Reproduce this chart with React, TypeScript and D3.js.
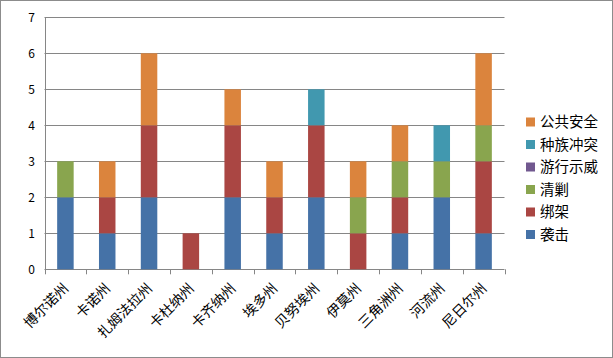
import React from "react";
import * as d3 from "d3";

const categories = ["博尔诺州", "卡诺州", "扎姆法拉州", "卡杜纳州", "卡齐纳州", "埃多州", "贝努埃州", "伊莫州", "三角洲州", "河流州", "尼日尔州"];
const seriesNames = ["袭击", "绑架", "清剿", "游行示威", "种族冲突", "公共安全"];
const attack = [2, 1, 2, 0, 2, 1, 2, 0, 1, 2, 1];
const kidnap = [0, 1, 2, 1, 2, 1, 2, 1, 1, 0, 2];
const sweep = [1, 0, 0, 0, 0, 0, 0, 1, 1, 1, 1];
const protest = [0, 0, 0, 0, 0, 0, 0, 0, 0, 0, 0];
const ethnic = [0, 0, 0, 0, 0, 0, 1, 0, 0, 1, 0];
const publicSafety = [0, 1, 2, 0, 1, 1, 0, 1, 1, 0, 2];
const yTicks = [0, 1, 2, 3, 4, 5, 6, 7];
const colors = ["#4572A7", "#AA4643", "#89A54E", "#71588F", "#4198AF", "#DB843D"];

const W = 613, H = 358;
const left = 44.5, right = 504.5, top = 17.3, bottom = 269.3;
const FONT = "'Noto Sans CJK SC', 'Noto Sans', sans-serif";

export default function App() {
  const values = [attack, kidnap, sweep, protest, ethnic, publicSafety];
  const rows = categories.map((c, i) => {
    const r: any = { cat: c };
    seriesNames.forEach((s, k) => (r[s] = values[k][i]));
    return r;
  });
  const stacked = d3.stack().keys(seriesNames)(rows);
  const x = d3.scaleBand().domain(categories).range([left, right]).paddingInner(0).paddingOuter(0);
  const y = d3.scaleLinear().domain([0, 7]).range([bottom, top]);
  const bw = 16.5;
  const legendOrder = [...seriesNames].reverse();
  const ticksX = [...categories.map((c) => x(c)!), right];

  return (
    <div style={{ position: "absolute", left: 0, top: 0 }}>
      <svg width={W} height={H} style={{ display: "block", fontFamily: FONT }}>
        <rect x={0.5} y={0.5} width={W - 1} height={H - 1} fill="#fff" stroke="#8c8c8c" />
        {yTicks.map((t) => (
          <g key={t}>
            <line x1={left} x2={right} y1={Math.round(y(t)) + 0.5} y2={Math.round(y(t)) + 0.5} stroke="#868686" strokeWidth={1} />
            <text x={35} y={y(t)} dy="0.35em" textAnchor="end" fontSize={12} fill="#000">{t}</text>
          </g>
        ))}
        <line x1={Math.round(left) + 0.5} x2={Math.round(left) + 0.5} y1={top} y2={bottom} stroke="#868686" />
        {stacked.map((layer, k) => (
          <g key={layer.key} fill={colors[k]}>
            {layer.map((d, i) =>
              d[1] - d[0] > 0 ? (
                <rect key={i} x={x(categories[i])! + x.bandwidth() / 2 - bw / 2} y={y(d[1])} width={bw} height={y(d[0]) - y(d[1])} />
              ) : null
            )}
          </g>
        ))}
        {ticksX.map((tx, i) => (
          <line key={i} x1={Math.round(tx) + 0.5} x2={Math.round(tx) + 0.5} y1={bottom} y2={bottom + 5} stroke="#868686" />
        ))}
        {categories.map((c) => {
          const cx = x(c)! + x.bandwidth() / 2 + 4;
          const cy = bottom + 20;
          return (
            <text key={c} x={cx} y={cy} transform={`rotate(-45 ${cx} ${cy})`} textAnchor="end" fontSize={14} fill="#000">{c}</text>
          );
        })}
        {legendOrder.map((s, j) => {
          const k = seriesNames.indexOf(s);
          const ly = 122 + j * 22.5;
          return (
            <g key={s}>
              <rect x={526} y={ly - 4.5} width={9} height={9} fill={colors[k]} />
              <text x={540} y={ly} dy="0.35em" fontSize={14.5} fill="#000">{s}</text>
            </g>
          );
        })}
      </svg>
    </div>
  );
}
